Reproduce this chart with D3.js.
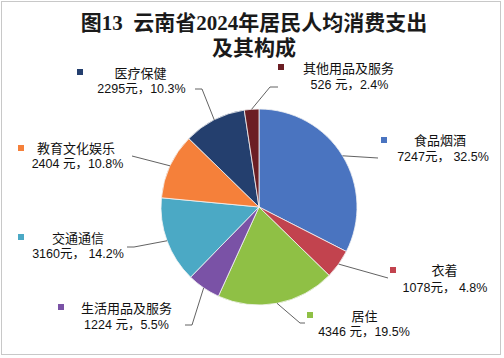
<!DOCTYPE html>
<html><head><meta charset="utf-8">
<script src="https://cdn.jsdelivr.net/npm/d3@7/dist/d3.min.js"></script>
<style>
html,body{margin:0;padding:0;background:#fff;}
svg{display:block;}
</style></head>
<body><svg id="c" width="504" height="358"></svg>
<script>
// ---- data ----
const categories = ["食品烟酒","衣着","居住","生活用品及服务","交通通信","教育文化娱乐","医疗保健","其他用品及服务"];
const amounts = [7247,1078,4346,1224,3160,2404,2295,526];
const shares = [32.5,4.8,19.5,5.5,14.2,10.8,10.3,2.4];
const valueLabels = ["7247元， 32.5%","1078元， 4.8%","4346 元，19.5%","1224 元，5.5%","3160元， 14.2%","2404 元，10.8%","2295元，10.3%","526 元，2.4%"];
const colors = ["#4A74C0","#C2434E","#8FC045","#7A52A6","#4BA9C5","#F5803A","#243F6E","#6B1E24"];
const titleLines = ["图13  云南省2024年居民人均消费支出","及其构成"];

// ---- layout (label placement) ----
const labelPos = [
  {mx:381,my:137,nx:440,ny:140,vx:443,vy:157,pts:[[378,158]]},
  {mx:390,my:267,nx:444.5,ny:270,vx:445,vy:288,pts:[[388,278]]},
  {mx:307,my:312,nx:364.5,ny:316,vx:364,vy:332,pts:[[300,323],[305,323]]},
  {mx:58,my:304,nx:126.5,ny:308,vx:126.5,vy:325,pts:[[192,325],[185,325]]},
  {mx:18,my:234,nx:78,ny:238,vx:78,vy:254,pts:[[134,247],[127,247]]},
  {mx:18,my:145,nx:76,ny:148,vx:77.5,vy:164,pts:[[132,156]]},
  {mx:77,my:69,nx:140.5,ny:73,vx:141.5,vy:89,pts:[[202,89],[195,89]]},
  {mx:278,my:64,nx:348.5,ny:68,vx:349.5,vy:85,pts:[[270,87],[278,87]]}
];

const svg = d3.select("#c");
svg.append("rect").attr("x",1.5).attr("y",1.5).attr("width",499).attr("height",353)
  .attr("fill","#fff").attr("stroke","#c8c8c8").attr("stroke-width",1);

// title
const tf = "'Liberation Serif','Noto Sans CJK SC',serif";
svg.selectAll("text.title").data(titleLines).join("text")
  .attr("class","title")
  .attr("x",254).attr("y",(d,i)=>i===0?30:55)
  .attr("text-anchor","middle")
  .style("font-family",tf).style("font-weight","700").style("font-size","21px")
  .style("fill","#1a1a1a").style("white-space","pre")
  .text(d=>d);

// pie
const cx=259, cy=207, R=98;
const data = categories.map((c,i)=>({cat:c,val:amounts[i],share:shares[i],i}));
const pie = d3.pie().value(d=>d.share).sort(null);
const arcs = pie(data);
const arc = d3.arc().innerRadius(0).outerRadius(R);
const g = svg.append("g").attr("transform",`translate(${cx},${cy})`);
g.selectAll("path").data(arcs).join("path")
  .attr("d",arc).attr("fill",(d)=>colors[d.data.i])
  .attr("stroke","#f4f4f4").attr("stroke-width",0.8);

// leader lines + labels
const lf = "'Liberation Sans','Noto Sans CJK SC',sans-serif";
arcs.forEach((a,k)=>{
  const m=(a.startAngle+a.endAngle)/2;
  const p=[cx+R*Math.sin(m), cy-R*Math.cos(m)];
  const lp=labelPos[k];
  svg.append("path").attr("d",d3.line()([p,...lp.pts]))
    .attr("fill","none").attr("stroke","#3a3a3a").attr("stroke-width",0.8);
  svg.append("rect").attr("x",lp.mx).attr("y",lp.my).attr("width",6).attr("height",6)
    .attr("fill",colors[a.data.i]);
  svg.append("text").attr("x",lp.nx).attr("y",lp.ny).attr("dy","0.35em")
    .attr("text-anchor","middle").style("font-family",lf).style("font-size","13px")
    .style("fill","#111").text(a.data.cat);
  svg.append("text").attr("x",lp.vx).attr("y",lp.vy).attr("dy","0.35em")
    .attr("text-anchor","middle").style("font-family",lf).style("font-size","12.5px")
    .style("fill","#111").style("white-space","pre").text(valueLabels[k]);
});
</script></body></html>
